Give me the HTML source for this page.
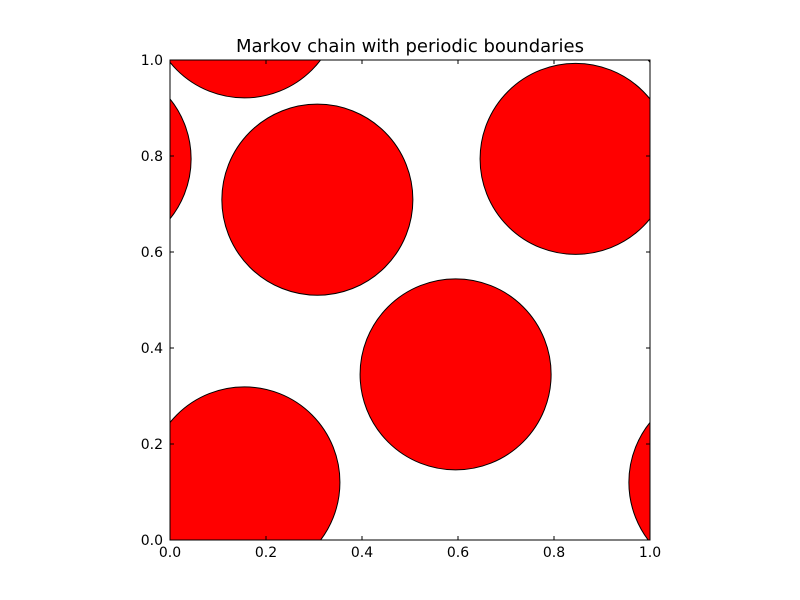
<!DOCTYPE html>
<html><head><meta charset="utf-8"><style>
html,body{margin:0;padding:0;background:#fff;overflow:hidden;width:800px;height:600px;font-family:"DejaVu Sans","Liberation Sans",sans-serif}
svg{display:block}
</style></head><body>
<svg id="chart" width="800" height="600" xmlns="http://www.w3.org/2000/svg">
<rect width="800" height="600" fill="#fff"/>
<text x="410" y="52" text-anchor="middle" font-size="18">Markov chain with periodic boundaries</text>
<defs><clipPath id="ax"><rect x="170" y="60" width="480" height="480"/></clipPath></defs>
<g id="circles" clip-path="url(#ax)"></g>
<rect x="170" y="60" width="480" height="480" fill="none" stroke="#000" stroke-width="1"/>
<g id="ticks"></g>
</svg>
<script>
const xs = [0.307, 0.595, 0.845, 0.155];
const ys = [0.709, 0.345, 0.794, 0.12];
const radius = 0.199;
const tickVals = [0, 0.2, 0.4, 0.6, 0.8, 1.0];
const tickLabels = ["0.0","0.2","0.4","0.6","0.8","1.0"];
const X0=170,Y0=540,S=480;
const sx=v=>X0+v*S, sy=v=>Y0-v*S;
const NS="http://www.w3.org/2000/svg";
const g=document.getElementById('circles');
for(let i=0;i<xs.length;i++){
  for(const dx of [-1,0,1]) for(const dy of [-1,0,1]){
    const c=document.createElementNS(NS,'circle');
    c.setAttribute('cx',sx(xs[i]+dx));c.setAttribute('cy',sy(ys[i]+dy));
    c.setAttribute('r',radius*S);c.setAttribute('fill','#ff0000');
    c.setAttribute('stroke','#000');c.setAttribute('stroke-width','1');
    
    
    g.appendChild(c);
  }
}
const t=document.getElementById('ticks');
function line(x1,y1,x2,y2){const l=document.createElementNS(NS,'line');l.setAttribute('x1',x1);l.setAttribute('y1',y1);l.setAttribute('x2',x2);l.setAttribute('y2',y2);l.setAttribute('stroke','#000');t.appendChild(l);}
function txt(x,y,s,a){const e=document.createElementNS(NS,'text');e.setAttribute('x',x);e.setAttribute('y',y);e.setAttribute('text-anchor',a);e.setAttribute('font-size','14');e.textContent=s;


t.appendChild(e);}
tickVals.forEach((v,i)=>{
  const x=sx(v),y=sy(v);
  line(x,540,x,536);line(x,60,x,64);
  line(170,y,174,y);line(650,y,646,y);
  txt(x,557,tickLabels[i],'middle');
  txt(163,y+5,tickLabels[i],'end');
});
</script>
</body></html>
